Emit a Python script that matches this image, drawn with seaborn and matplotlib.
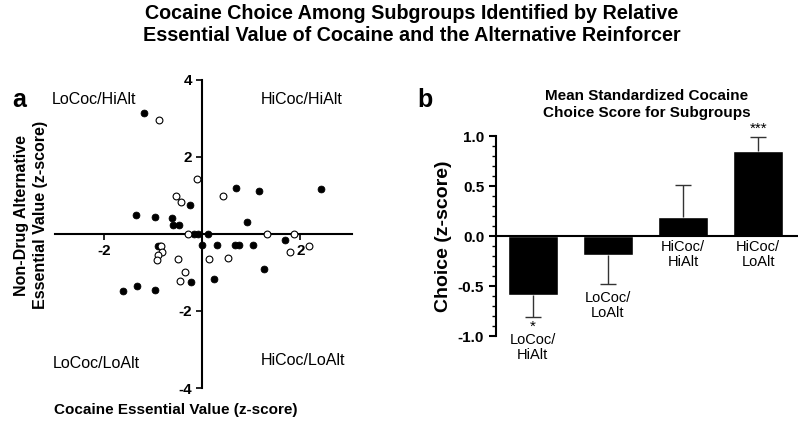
import numpy as np
import pandas as pd
import matplotlib
matplotlib.use("Agg")
import matplotlib.pyplot as plt
import seaborn as sns
from matplotlib.ticker import AutoMinorLocator

# ---------------------------
# Data
# ---------------------------
# panel a: filled circles
filled_x = [-1.20, -1.35, -0.97, -0.61, -0.59, -0.47, -0.25, -0.18, -0.09, 0.11,
            0.68, 1.16, 2.41, 0.90, -0.90, -0.87, 0.00, 0.29, 0.67, 0.75, 1.03,
            1.69, 1.25, 0.24, -0.24, -1.33, -1.61, -0.97]
filled_y = [3.13, 0.48, 0.43, 0.41, 0.24, 0.23, 0.74, 0.00, 0.00, 0.00,
            1.20, 1.12, 1.16, 0.32, -0.30, -0.30, -0.29, -0.29, -0.29, -0.29, -0.29,
            -0.16, -0.91, -1.18, -1.24, -1.36, -1.49, -1.45]
# panel a: open circles
open_x = [-0.89, -0.10, -0.54, -0.44, 0.43, -0.29, 1.31, 1.86, 2.18, 1.78,
          -0.84, -0.83, -0.90, -0.92, -0.50, 0.14, 0.53, -0.36, -0.45]
open_y = [2.97, 1.43, 0.98, 0.82, 0.99, 0.00, 0.00, 0.00, -0.31, -0.48,
          -0.32, -0.47, -0.54, -0.68, -0.66, -0.66, -0.62, -1.00, -1.22]

quadrants = ["LoCoc/HiAlt", "HiCoc/HiAlt", "LoCoc/LoAlt", "HiCoc/LoAlt"]

# panel b: bars
groups = ["LoCoc/\nHiAlt", "LoCoc/\nLoAlt", "HiCoc/\nHiAlt", "HiCoc/\nLoAlt"]
means = [-0.59, -0.19, 0.19, 0.85]
sems = [0.22, 0.29, 0.32, 0.14]
stars = ["*", "", "", "***"]

# ---------------------------
# Figure
# ---------------------------
sns.set_style("ticks")
plt.rcParams['font.family'] = ['Liberation Sans', 'DejaVu Sans']
plt.rcParams['axes.unicode_minus'] = False
plt.rcParams['text.color'] = 'black'
plt.rcParams['axes.labelcolor'] = 'black'
plt.rcParams['xtick.color'] = 'black'
plt.rcParams['ytick.color'] = 'black'
plt.rcParams['axes.edgecolor'] = 'black'

fig = plt.figure(figsize=(8, 4.25), dpi=100)

fig.text(0.515, 0.99, "Cocaine Choice Among Subgroups Identified by Relative\n"
         "Essential Value of Cocaine and the Alternative Reinforcer",
         ha="center", va="top", fontsize=14.2, fontweight="bold", linespacing=1.2)
fig.text(0.015, 0.765, "a", fontsize=18, fontweight="bold", va="center")
fig.text(0.522, 0.765, "b", fontsize=18, fontweight="bold", va="center")

# ---------------------------
# Panel a: scatter with centered axes
# ---------------------------
ax1 = fig.add_axes([0.069, 0.087, 0.371, 0.725])
sns.scatterplot(x=filled_x, y=filled_y, ax=ax1, color="black", s=24,
                edgecolor="black", linewidth=0.6, zorder=3)
sns.scatterplot(x=open_x, y=open_y, ax=ax1, facecolor="white", s=24,
                edgecolor="black", linewidth=0.8, zorder=3)
ax1.set_xlim(-3, 3.05)
ax1.set_ylim(-4, 4)
ax1.spines["left"].set_position(("data", 0))
ax1.spines["bottom"].set_position(("data", 0))
ax1.spines["top"].set_visible(False)
ax1.spines["right"].set_visible(False)
for sp in ["left", "bottom"]:
    ax1.spines[sp].set_linewidth(1.5)
ax1.set_xticks([-2, 2])
ax1.set_yticks([-4, -2, 2, 4])
ax1.tick_params(width=1.2, length=4, labelsize=11)
for lbl in ax1.get_xticklabels() + ax1.get_yticklabels():
    lbl.set_fontweight("bold")

ax1.text(-2.2, 3.49, quadrants[0], fontsize=11.5, ha="center", va="center")
ax1.text(2.02, 3.49, quadrants[1], fontsize=11.5, ha="center", va="center")
ax1.text(-2.17, -3.37, quadrants[2], fontsize=11.5, ha="center", va="center")
ax1.text(2.06, -3.29, quadrants[3], fontsize=11.5, ha="center", va="center")

fig.text(0.039, 0.494, "Non-Drug Alternative\nEssential Value (z-score)",
         rotation=90, ha="center", va="center", fontsize=11.5, fontweight="bold",
         linespacing=1.3)
fig.text(0.22, 0.035, "Cocaine Essential Value (z-score)",
         ha="center", va="center", fontsize=11, fontweight="bold")

# ---------------------------
# Panel b: bar chart
# ---------------------------
ax2 = fig.add_axes([0.62, 0.209, 0.3775, 0.471])
df = pd.DataFrame({"group": groups, "mean": means})
sns.barplot(data=df, x="group", y="mean", ax=ax2, color="black",
            width=0.667, errorbar=None, saturation=1)

# one-sided error bars (away from zero), drawn behind the bars
pos = np.arange(len(means))
ends = [m - s if m < 0 else m + s for m, s in zip(means, sems)]
ax2.vlines(pos, means, ends, color="#333333", linewidth=1.0, zorder=1)
ax2.hlines(ends, pos - 0.11, pos + 0.11, color="#333333", linewidth=1.0, zorder=1)

ax2.axhline(0, color="black", linewidth=1.5, xmin=0, xmax=1, zorder=4)
ax2.set_xlim(-0.49, 3.53)
ax2.set_ylim(-1.0, 1.0)
ax2.set_yticks([-1.0, -0.5, 0.0, 0.5, 1.0])
ax2.set_yticklabels(["-1.0", "-0.5", "0.0", "0.5", "1.0"])
ax2.yaxis.set_minor_locator(AutoMinorLocator(5))
ax2.tick_params(axis="y", which="major", width=1.5, length=5, labelsize=11)
ax2.tick_params(axis="y", which="minor", width=1.0, length=3)
for lbl in ax2.get_yticklabels():
    lbl.set_fontweight("bold")
ax2.set_xticks([])
ax2.set_xlabel("")
ax2.set_ylabel("Choice (z-score)", fontsize=14, fontweight="bold", labelpad=4)
ax2.spines["top"].set_visible(False)
ax2.spines["right"].set_visible(False)
ax2.spines["bottom"].set_visible(False)
ax2.spines["left"].set_linewidth(1.5)
ax2.set_title("Mean Standardized Cocaine\nChoice Score for Subgroups",
              fontsize=11, fontweight="bold", pad=14)

# group labels and significance marks
for i, (g, m, s, st) in enumerate(zip(groups, means, sems, stars)):
    if m < 0:
        y_lab = m - s - 0.07
    else:
        y_lab = -0.04
    if st and m < 0:
        ax2.text(i, m - s - 0.03, st, ha="center", va="top", fontsize=11,
                 clip_on=False)
        y_lab = m - s - 0.16
    ax2.text(i, y_lab, g, ha="center", va="top", fontsize=10.5,
             linespacing=1.1, clip_on=False)
    if st and m >= 0:
        ax2.text(i, m + s + 0.01, st, ha="center", va="bottom", fontsize=11, clip_on=False)

fig.savefig("out.png", dpi=100)
